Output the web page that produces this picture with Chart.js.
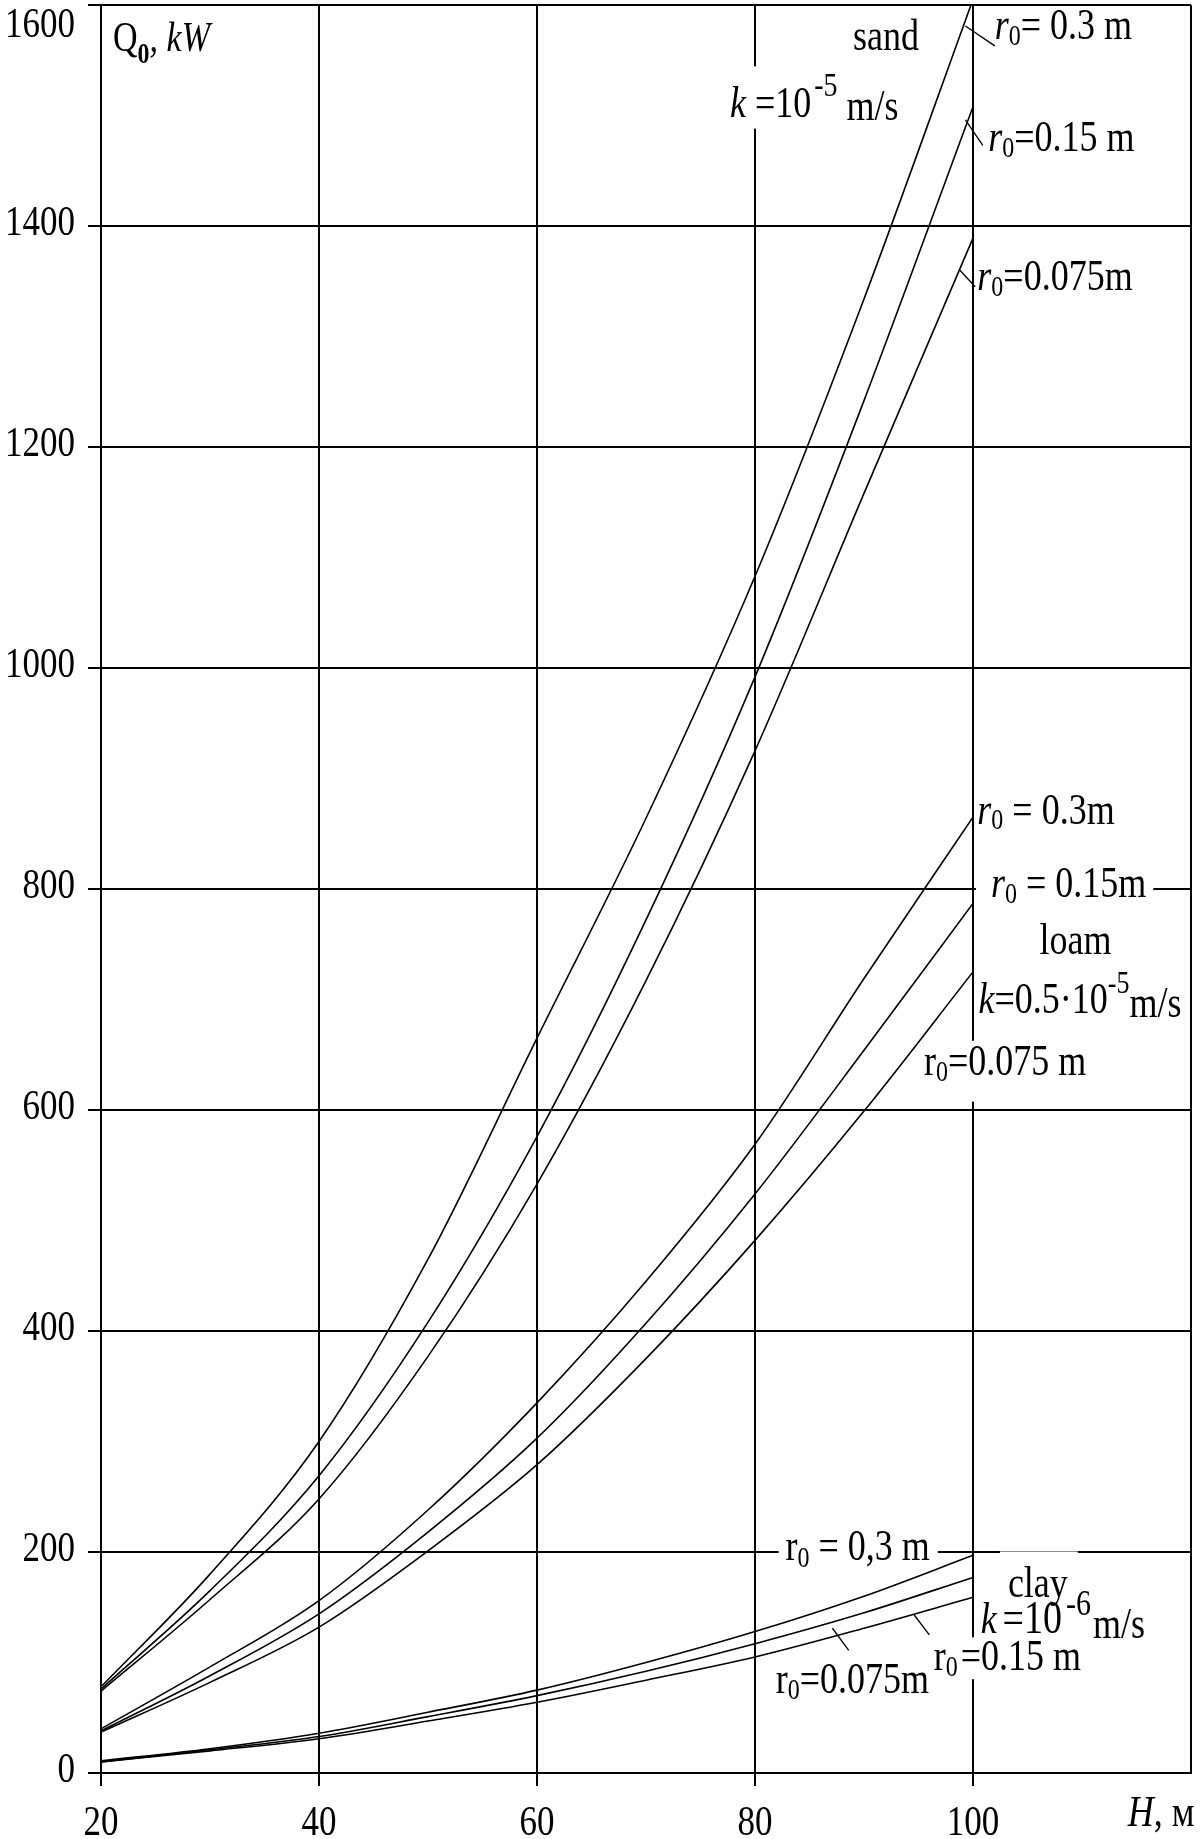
<!DOCTYPE html>
<html>
<head>
<meta charset="utf-8">
<title>Q0 - H</title>
<script src="https://cdn.jsdelivr.net/npm/chart.js@4.4.1/dist/chart.umd.min.js"></script>
<style>
html, body { margin: 0; padding: 0; background: #fff; }
#wrap { width: 1200px; height: 1839px; }
</style>
</head>
<body>
<div id="wrap"><canvas id="chart" width="1200" height="1839"></canvas></div>
<script>
// depth H, m
var depths = [20, 30, 40, 50, 60, 70, 80, 90, 100];

// Q0, kW  - sand, k = 1e-5 m/s
var sand03 = [78, 180, 300, 465, 665, 864, 1083, 1334, 1605];
var sand015 = [76, 165, 269, 408, 576, 772, 992, 1242, 1508];
var sand0075 = [74, 157, 248, 377, 533, 717, 925, 1158, 1389];

// loam, k = 0.5e-5 m/s
var loam03 = [40, 96, 156, 238, 335, 445, 569, 719, 865];
var loam015 = [38, 88, 144, 218, 303, 407, 524, 654, 787];
var loam0075 = [37, 82, 132, 201, 279, 375, 482, 599, 725];

// clay, k = 1e-6 m/s
var clay03 = [11, 22, 36, 55, 75, 100, 128, 160, 197];
var clay015 = [10, 21, 33, 51, 70, 92, 117, 145, 177];
var clay0075 = [10, 20, 31, 47, 64, 84, 105, 131, 159];

var xTicks = [20, 40, 60, 80, 100];
var yTicks = [0, 200, 400, 600, 800, 1000, 1200, 1400, 1600];

(function() {
    var FONT = '"Liberation Serif", "Times New Roman", serif';
    var SY = 1.22;

    // text notes on the plot, placed in data units (H, Q)
    var notes = [
        { h: 21.1, q: 1558, runs: [{ t: 'Q', size: 34 }, { t: '0', size: 24, dy: 12, b: true }, { t: ', kW', size: 34, it: true }] },
        { h: 89.0, q: 1559, runs: [{ t: 'sand' }] },
        { h: 77.7, q: 1499, box: [4, 6, 6, 9], runs: [{ t: 'k', it: true }, { t: ' =10' }, { t: '-5', size: 28, dy: -21, dx: 3 }, { t: ' m/s', dy: 3 }] },
        { h: 102.0, q: 1569, runs: [{ t: 'r', it: true }, { t: '0', size: 24, dy: 6 }, { t: '= 0.3 m' }] },
        { h: 101.4, q: 1468, runs: [{ t: 'r', it: true }, { t: '0', size: 24, dy: 6 }, { t: '=0.15 m' }] },
        { h: 100.4, q: 1342, runs: [{ t: 'r', it: true }, { t: '0', size: 24, dy: 6 }, { t: '=0.075m' }] },

        { h: 100.4, q: 859, runs: [{ t: 'r', it: true }, { t: '0', size: 24, dy: 5 }, { t: ' = 0.3m' }] },
        { h: 101.65, q: 793, box: [15, 5, 7, 5], runs: [{ t: 'r', it: true }, { t: '0', size: 24, dy: 6 }, { t: ' = 0.15m' }] },
        { h: 106.1, q: 741, runs: [{ t: 'loam' }] },
        { h: 100.5, q: 688, runs: [{ t: 'k', it: true }, { t: '=0.5\u00b710' }, { t: '-5', size: 26, dy: -20 }, { t: 'm/s', dy: 4 }] },
        { h: 95.5, q: 632, box: [4, 4, 4, 21], runs: [{ t: 'r' }, { t: '0', size: 24, dy: 6 }, { t: '=0.075 m' }] },

        { h: 82.8, q: 192.7, box: [7, 3, 8, 3], runs: [{ t: 'r' }, { t: '0', size: 24, dy: 7 }, { t: ' = 0,3 m' }] },
        { h: 103.2, q: 159, box: [8, 16, 10, 2], runs: [{ t: 'clay' }] },
        { h: 100.7, q: 126.6, runs: [{ t: 'k', it: true }, { t: '=10', size: 38, dx: 6 }, { t: '-6', size: 30, dy: -18, dx: 4 }, { t: 'm/s', dy: 5, dx: 2 }] },
        { h: 96.4, q: 93, box: [4, 3, 4, 3], runs: [{ t: 'r' }, { t: '0', size: 24, dy: 6 }, { t: '=0.15 m', dx: 3 }] },
        { h: 81.9, q: 72.2, runs: [{ t: 'r' }, { t: '0', size: 24, dy: 6 }, { t: '=0.075m' }] },

        { h: 114.2, q: -47.8, runs: [{ t: 'H', it: true }, { t: ', \u043c' }] }
    ];

    // short leader strokes from curve to its note
    var leaders = [
        [99.3, 1581, 102.0, 1563],
        [99.3, 1496, 100.9, 1473],
        [98.8, 1360, 100.2, 1345],
        [87.1, 131, 88.6, 111],
        [94.6, 143, 96.0, 125]
    ];

    function fontOf(r) {
        return (r.it ? 'italic ' : '') + (r.b ? 'bold ' : '') + (r.size || 36) + 'px ' + FONT;
    }

    function runsExtent(ctx, runs) {
        var w = 0, top = 0, bottom = 0;
        runs.forEach(function(r) {
            var size = r.size || 36;
            ctx.font = fontOf(r);
            w += ctx.measureText(r.t).width + (r.dx || 0);
            top = Math.min(top, (r.dy || 0) - size * 0.68 * SY);
            bottom = Math.max(bottom, (r.dy || 0));
        });
        return { w: w, top: top, bottom: bottom };
    }

    function drawRuns(ctx, x, y, runs) {
        var cx = x;
        runs.forEach(function(r) {
            ctx.save();
            ctx.font = fontOf(r);
            cx += (r.dx || 0);
            ctx.translate(cx, y + (r.dy || 0));
            ctx.scale(1, SY);
            ctx.fillStyle = '#000';
            ctx.textBaseline = 'alphabetic';
            ctx.textAlign = 'left';
            ctx.fillText(r.t, 0, 0);
            cx += ctx.measureText(r.t).width;
            ctx.restore();
        });
    }

    function stretchedText(ctx, s, x, y, size, align) {
        ctx.save();
        ctx.font = size + 'px ' + FONT;
        var w = ctx.measureText(s).width;
        var left = align === 'right' ? x - w : align === 'center' ? x - w / 2 : x;
        ctx.translate(left, y);
        ctx.scale(1, SY);
        ctx.fillStyle = '#000';
        ctx.fillText(s, 0, 0);
        ctx.restore();
    }

    var notesPlugin = {
        id: 'notes',
        beforeDatasetsDraw: function(chart) {
            var ctx = chart.ctx;
            var xs = chart.scales.x, ys = chart.scales.y;
            ctx.save();
            // white patches behind notes that break grid lines
            notes.forEach(function(n) {
                if (!n.box) return;
                var x = xs.getPixelForValue(n.h), y = ys.getPixelForValue(n.q);
                var e = runsExtent(ctx, n.runs);
                ctx.fillStyle = '#fff';
                ctx.fillRect(x - n.box[0], y + e.top - n.box[1], e.w + n.box[0] + n.box[2], e.bottom - e.top + n.box[1] + n.box[3]);
            });
            notes.forEach(function(n) {
                drawRuns(ctx, xs.getPixelForValue(n.h), ys.getPixelForValue(n.q), n.runs);
            });
            ctx.strokeStyle = '#000';
            ctx.lineWidth = 1.3;
            leaders.forEach(function(l) {
                ctx.beginPath();
                ctx.moveTo(xs.getPixelForValue(l[0]), ys.getPixelForValue(l[1]));
                ctx.lineTo(xs.getPixelForValue(l[2]), ys.getPixelForValue(l[3]));
                ctx.stroke();
            });
            ctx.restore();
        },
        afterDraw: function(chart) {
            var ctx = chart.ctx;
            var xs = chart.scales.x, ys = chart.scales.y;
            var area = chart.chartArea;
            yTicks.forEach(function(v) {
                var y = Math.max(ys.getPixelForValue(v) + 9, 37);
                stretchedText(ctx, String(v), area.left - 26, y, 35, 'right');
            });
            xTicks.forEach(function(v) {
                stretchedText(ctx, String(v), xs.getPixelForValue(v), area.bottom + 62, 35, 'center');
            });
        }
    };

    function series(values) {
        return depths.map(function(h, i) { return { x: h, y: values[i] }; });
    }

    function line(values) {
        return {
            data: series(values),
            borderColor: '#000',
            borderWidth: 1.6,
            pointRadius: 0,
            fill: false,
            cubicInterpolationMode: 'monotone'
        };
    }

    function init() {
        var gridColor = '#000';

        new Chart(document.getElementById('chart'), {
            type: 'line',
            data: {
                datasets: [
                    line(sand03), line(sand015), line(sand0075),
                    line(loam03), line(loam015), line(loam0075),
                    line(clay03), line(clay015), line(clay0075)
                ]
            },
            options: {
                responsive: false,
                animation: false,
                devicePixelRatio: 1,
                layout: { padding: { left: 0, right: 9, top: 5, bottom: 0 } },
                plugins: { legend: { display: false }, tooltip: { enabled: false } },
                scales: {
                    x: {
                        type: 'linear',
                        min: 20,
                        max: 120,
                        ticks: { display: false, stepSize: 20 },
                        grid: {
                            color: gridColor,
                            lineWidth: 2,
                            tickLength: 13,
                            tickColor: function(c) {
                                return c.tick && c.tick.value === 120 ? 'rgba(0,0,0,0)' : gridColor;
                            }
                        },
                        border: { color: gridColor, width: 2 },
                        afterFit: function(scale) { scale.height = 66; }
                    },
                    y: {
                        type: 'linear',
                        min: 0,
                        max: 1600,
                        ticks: { display: false, stepSize: 200 },
                        grid: { color: gridColor, lineWidth: 2, tickLength: 13 },
                        border: { color: gridColor, width: 2 },
                        afterFit: function(scale) { scale.width = 101; }
                    }
                }
            },
            plugins: [notesPlugin]
        });
    }

    if (document.readyState === 'loading') {
        document.addEventListener('DOMContentLoaded', init);
    } else {
        init();
    }
})();
</script>
</body>
</html>
